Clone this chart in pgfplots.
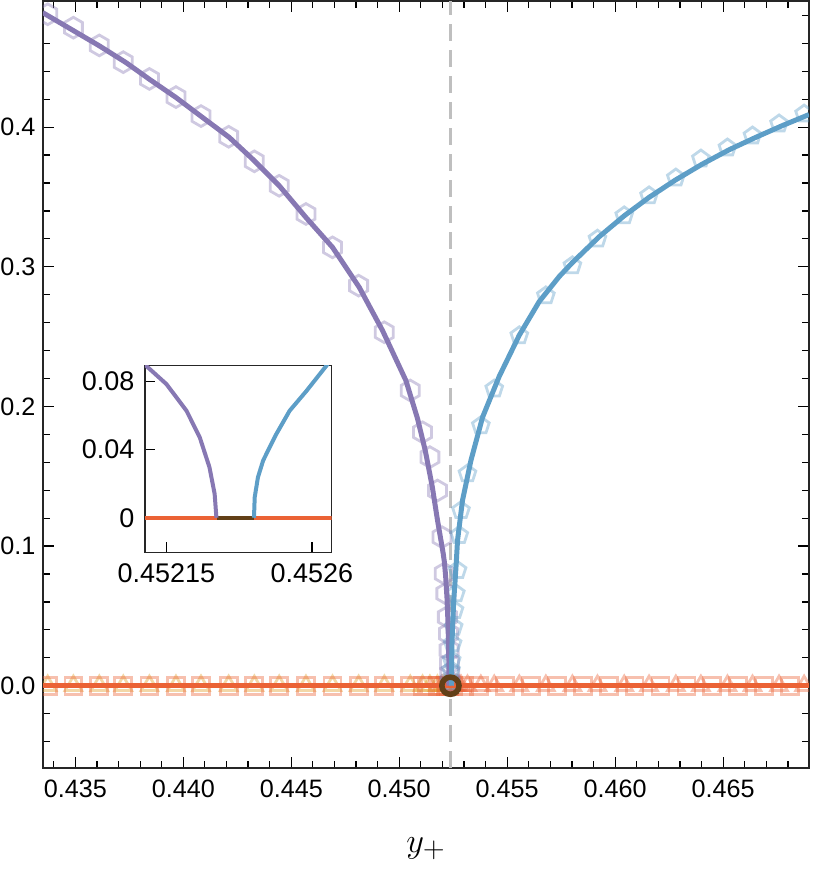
\documentclass[border=0pt]{standalone}
\usepackage{fontspec}
\setmainfont{Liberation Sans}
\usepackage{pgfplots}
\pgfplotsset{compat=1.18}
\definecolor{cpurple}{rgb}{0.528,0.471,0.701}
\definecolor{cblue}{rgb}{0.364,0.619,0.782}
\definecolor{cred}{rgb}{0.922,0.386,0.209}
\definecolor{corange}{rgb}{0.881,0.611,0.142}
\definecolor{cbrown}{RGB}{98,64,24}
\pgfdeclareplotmark{hexagon}{%
 \pgfpathmoveto{\pgfqpointpolar{90}{\pgfplotmarksize}}%
 \pgfpathlineto{\pgfqpointpolar{150}{\pgfplotmarksize}}%
 \pgfpathlineto{\pgfqpointpolar{210}{\pgfplotmarksize}}%
 \pgfpathlineto{\pgfqpointpolar{270}{\pgfplotmarksize}}%
 \pgfpathlineto{\pgfqpointpolar{330}{\pgfplotmarksize}}%
 \pgfpathlineto{\pgfqpointpolar{30}{\pgfplotmarksize}}%
 \pgfpathclose
 \pgfusepathqstroke}
\pgfplotsset{
 mk/.style={only marks, mark options={solid, line width=1.4pt, opacity=0.4}},
}
\begin{document}
\begin{tikzpicture}
\path[use as bounding box] (-21.5pt,-53pt) rectangle (385.5pt,384.5pt);
\begin{axis}[
 name=main,
 width=383.5pt, height=384pt, scale only axis,
 xmin=0.4335, xmax=0.46898, ymin=-0.059, ymax=0.4903,
 clip marker paths=true,
 scaled ticks=false,
 xtick={0.435,0.44,0.445,0.45,0.455,0.46,0.465},
 xticklabels={0.435,0.440,0.445,0.450,0.455,0.460,0.465},
 minor xtick={0.434,0.436,0.437,0.438,0.439,0.441,0.442,0.443,0.444,0.446,0.447,0.448,0.449,0.451,0.452,0.453,0.454,0.456,0.457,0.458,0.459,0.461,0.462,0.463,0.464,0.466,0.467,0.468},
 ytick={0,0.1,0.2,0.3,0.4},
 yticklabels={0.0,0.1,0.2,0.3,0.4},
 minor ytick={-0.04,-0.02,0.02,0.04,0.06,0.08,0.12,0.14,0.16,0.18,0.22,0.24,0.26,0.28,0.32,0.34,0.36,0.38,0.42,0.44,0.46,0.48},
 tick align=inside, major tick length=5.5pt, minor tick length=3.5pt,
 every tick/.style={black, line width=0.6pt},
 axis line style={line width=0.75pt, black!85},
 ticklabel style={font=\fontsize{12.6}{15}\selectfont},
 yticklabel style={inner sep=0pt, xshift=-3.6pt},
 xticklabel style={inner sep=0pt, yshift=-5.5pt},
 xlabel={$y_+$},
 xlabel style={font=\fontsize{19}{22}\selectfont, at={(axis description cs:0.5,0)}, anchor=base, yshift=-42pt},
]
% critical line
\addplot[color=black!25, line width=1.4pt, dash pattern=on 8.5pt off 4.5pt] coordinates {(0.45237,-0.059) (0.45237,0.4903)};
% orange triangles (left)
\addplot[mk, corange, mark=triangle, mark size=4.8pt] coordinates {
(0.43372,0) (0.43491,0) (0.43611,0) (0.43722,0) (0.43843,0) (0.43966,0) (0.44082,0) (0.4421,0) (0.44329,0) (0.44444,0) (0.44568,0) (0.44691,0) (0.44812,0) (0.44931,0) (0.45051,0) (0.45108,0) (0.45142,0) (0.45177,0) (0.45198,0) (0.45208,0) (0.45216,0) (0.45223,0) (0.45231,0)};
% red squares
\addplot[mk, cred, mark=square, mark size=4.25pt] coordinates {
(0.43372,0) (0.43491,0) (0.43611,0) (0.43722,0) (0.43843,0) (0.43966,0) (0.44082,0) (0.4421,0) (0.44329,0) (0.44444,0) (0.44568,0) (0.44691,0) (0.44812,0) (0.44931,0) (0.45051,0) (0.45108,0) (0.45142,0) (0.45177,0) (0.45198,0) (0.45216,0) (0.45231,0)
(0.4525,0) (0.4530,0) (0.4537,0) (0.4549,0) (0.4561,0) (0.4573,0) (0.4585,0) (0.4597,0) (0.4609,0) (0.4621,0) (0.4633,0) (0.4645,0) (0.4657,0) (0.4669,0) (0.4681,0)};
% red triangles (right)
\addplot[mk, cred, mark=triangle, mark size=4.8pt] coordinates {
(0.45245,0) (0.45255,0) (0.45262,0) (0.4527,0) (0.45278,0) (0.45286,0) (0.45316,0) (0.45378,0) (0.4544,0) (0.45556,0) (0.45679,0) (0.45802,0) (0.45918,0) (0.46042,0) (0.46157,0) (0.46281,0) (0.46397,0) (0.4652,0) (0.46636,0) (0.46759,0) (0.46875,0)};
% purple hexagons
\addplot[mk, cpurple, mark=hexagon, mark size=5.2pt] coordinates {
(0.43372,0.4808) (0.43491,0.4712) (0.43611,0.4585) (0.43722,0.4465) (0.43843,0.4345) (0.43966,0.4215) (0.44082,0.4079) (0.4421,0.3931) (0.44329,0.3755) (0.44444,0.3580) (0.44568,0.3378) (0.44691,0.3139) (0.44812,0.2865) (0.44931,0.2531) (0.45051,0.2114) (0.45108,0.1815) (0.45142,0.1637) (0.45177,0.1398) (0.45198,0.1064) (0.45208,0.0803) (0.45216,0.066) (0.45223,0.0492) (0.45228,0.0373) (0.45231,0.0254) (0.45233,0.0159) (0.45234,0.0087) (0.45235,0.003)};
% blue pentagons
\addplot[mk, cblue, mark=pentagon, mark size=4.4pt] coordinates {
(0.45238,0.003) (0.45240,0.0111) (0.45243,0.0182) (0.45247,0.0302) (0.45252,0.0420) (0.45256,0.054) (0.45262,0.066) (0.4527,0.0826) (0.45278,0.1077) (0.45286,0.1255) (0.45316,0.1518) (0.45378,0.1863) (0.4544,0.2126) (0.45556,0.2507) (0.45679,0.2793) (0.45802,0.3008) (0.45918,0.3199) (0.46042,0.3366) (0.46157,0.3509) (0.46281,0.3637) (0.46397,0.3773) (0.4652,0.3852) (0.46636,0.3938) (0.46759,0.4024) (0.46875,0.4095)};
% zero lines
\addplot[corange, line width=2.5pt] coordinates {(0.4335,0) (0.452305,0)};
\addplot[cred, line width=2.5pt] coordinates {(0.4335,0) (0.46898,0)};
% purple branch
\addplot[cpurple, line width=2.5pt] table {
0.433486 0.4820
0.434801 0.4701
0.436111 0.4582
0.437347 0.4462
0.438426 0.4343
0.439662 0.4212
0.440894 0.4069
0.442130 0.3926
0.443208 0.3771
0.444444 0.3580
0.445681 0.3353
0.446912 0.3139
0.448148 0.2853
0.449227 0.2543
0.450310 0.2185
0.450847 0.1913
0.451204 0.1685
0.451528 0.1427
0.451773 0.1184
0.452037 0.0946
0.452088 0.0889
0.452150 0.0783
0.452212 0.0627
0.452253 0.0471
0.452283 0.0296
0.452299 0.0140
0.452304 0.0013
0.452305 0.0
};
% blue branch
\addplot[cblue, line width=2.5pt] table {
0.452420 0.0
0.452421 0.0013
0.452423 0.0120
0.452433 0.0237
0.452449 0.0335
0.452469 0.0412
0.452490 0.0491
0.452531 0.0627
0.452583 0.0743
0.452644 0.0889
0.452700 0.1041
0.452930 0.1327
0.453320 0.1613
0.453860 0.1923
0.454630 0.2215
0.455560 0.2510
0.456480 0.2750
0.457410 0.2930
0.458020 0.3030
0.459260 0.3215
0.460420 0.3365
0.461570 0.3497
0.462780 0.3620
0.464030 0.3735
0.465280 0.3838
0.466530 0.3928
0.467730 0.4010
0.468980 0.4090
};
% critical point
\addplot[only marks, mark=o, mark size=4.3pt, mark options={draw=cbrown, line width=2.8pt}] coordinates {(0.45237,0)};
\end{axis}
\begin{axis}[
 at={(51pt,108pt)}, anchor=south west,
 width=93.5pt, height=93.5pt, scale only axis,
 xmin=0.452083, xmax=0.452661, ymin=-0.0203, ymax=0.0892,
 scaled ticks=false,
 xtick={0.45215,0.4526}, xticklabels={0.45215,0.4526},
 ytick={0,0.04,0.08}, yticklabels={0,0.04,0.08},
 xtick pos=bottom, ytick pos=left,
 tick align=inside, major tick length=5pt,
 every tick/.style={black, line width=0.6pt},
 axis line style={line width=0.75pt, black!85},
 axis background/.style={fill=white},
 ticklabel style={font=\fontsize{13.5}{15}\selectfont},
 yticklabel style={inner sep=0pt, xshift=-5pt},
 xticklabel style={inner sep=0pt, yshift=-5.5pt},
]
\addplot[cred, line width=2pt] coordinates {(0.452083,0) (0.452661,0)};
\addplot[cbrown, line width=2pt] coordinates {(0.452305,0) (0.45242,0)};
\addplot[cpurple, line width=2pt] table {
0.452037 0.0946
0.452088 0.0889
0.452150 0.0783
0.452212 0.0627
0.452253 0.0471
0.452283 0.0296
0.452299 0.0140
0.452304 0.0013
0.452305 0.0
};
\addplot[cblue, line width=2pt] table {
0.452420 0.0
0.452421 0.0013
0.452423 0.0120
0.452433 0.0237
0.452449 0.0335
0.452469 0.0412
0.452490 0.0491
0.452531 0.0627
0.452583 0.0743
0.452644 0.0889
0.452700 0.1041
};
\end{axis}
\end{tikzpicture}
\end{document}
